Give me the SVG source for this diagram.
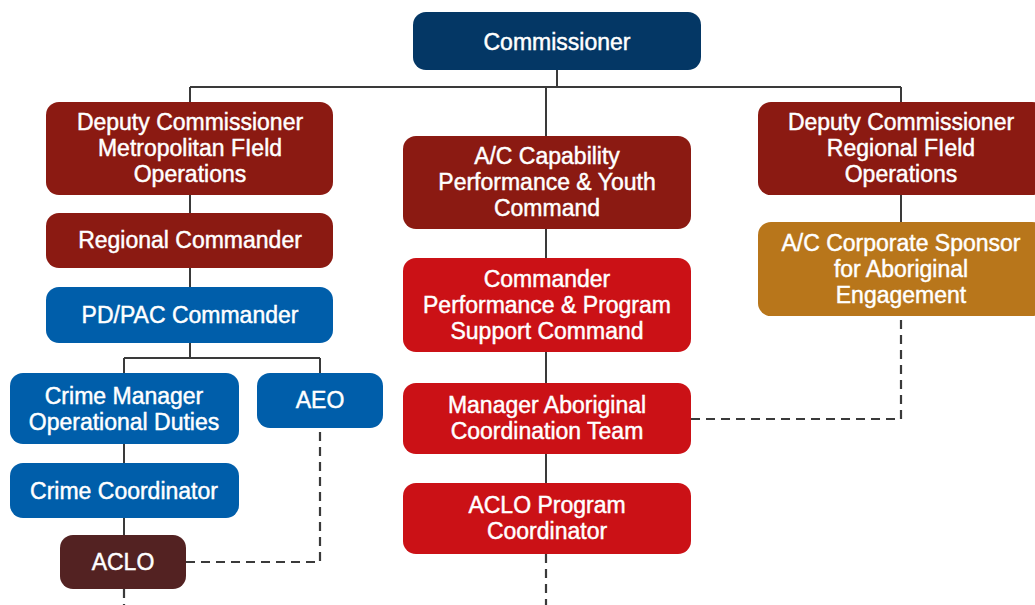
<svg xmlns="http://www.w3.org/2000/svg" width="1035" height="605" viewBox="0 0 1035 605">
<style>
.t{font-family:"Liberation Sans",Arial,Helvetica,sans-serif;font-size:23px;fill:#ffffff;stroke:#ffffff;stroke-width:0.45;text-anchor:middle}
.c{fill:none;stroke:#3a3a3a;stroke-width:2}
.d{fill:none;stroke:#3a3a3a;stroke-width:2.2;stroke-dasharray:9 6}
.navy{fill:#043765}.maroon{fill:#8b1a12}.red{fill:#cb1116}.blue{fill:#005eaa}.gold{fill:#b8761b}.dark{fill:#532222}
</style>
<rect width="1035" height="605" fill="#ffffff"/>
<g id="connectors">
<path class="c" d="M557 70V87M190 87H901M190 87V102M546 87V136M901 87V102"/>
<path class="c" d="M190 195V213M190 268V287M190 343V358M124 358H320M124 358V373M320 358V373M124 444V463M124 518V535"/>
<path class="c" d="M546 229V258M546 352V383M546 454V483M901 195V222"/>
<path class="d" d="M186 562H320V428M124 589V605M546 554V605M691 419H901V316"/>
</g>
<g id="commissioner"><rect class="navy" x="413" y="12" width="288" height="58" rx="13"/><text class="t" x="557" y="50">Commissioner</text></g>
<g id="dc-metro"><rect class="maroon" x="46" y="102" width="287" height="93" rx="13"/><text class="t" x="190" y="130">Deputy Commissioner</text><text class="t" x="190" y="156">Metropolitan FIeld</text><text class="t" x="190" y="182">Operations</text></g>
<g id="ac-capability"><rect class="maroon" x="403" y="136" width="288" height="93" rx="13"/><text class="t" x="547" y="164">A/C Capability</text><text class="t" x="547" y="190">Performance &amp; Youth</text><text class="t" x="547" y="216">Command</text></g>
<g id="dc-regional"><rect class="maroon" x="758" y="102" width="287" height="93" rx="13"/><text class="t" x="901" y="130">Deputy Commissioner</text><text class="t" x="901" y="156">Regional FIeld</text><text class="t" x="901" y="182">Operations</text></g>
<g id="regional-commander"><rect class="maroon" x="46" y="213" width="287" height="55" rx="13"/><text class="t" x="190" y="248">Regional Commander</text></g>
<g id="pdpac"><rect class="blue" x="46" y="287" width="287" height="56" rx="13"/><text class="t" x="190" y="323">PD/PAC Commander</text></g>
<g id="crime-manager"><rect class="blue" x="10" y="373" width="229" height="71" rx="13"/><text class="t" x="124" y="404">Crime Manager</text><text class="t" x="124" y="430">Operational Duties</text></g>
<g id="aeo"><rect class="blue" x="257" y="373" width="126" height="55" rx="13"/><text class="t" x="320" y="408">AEO</text></g>
<g id="crime-coordinator"><rect class="blue" x="10" y="463" width="229" height="55" rx="13"/><text class="t" x="124" y="499">Crime Coordinator</text></g>
<g id="aclo"><rect class="dark" x="60" y="535" width="126" height="54" rx="13"/><text class="t" x="123" y="570">ACLO</text></g>
<g id="commander-perf"><rect class="red" x="403" y="258" width="288" height="94" rx="13"/><text class="t" x="547" y="287">Commander</text><text class="t" x="547" y="313">Performance &amp; Program</text><text class="t" x="547" y="339">Support Command</text></g>
<g id="manager-aboriginal"><rect class="red" x="403" y="383" width="288" height="71" rx="13"/><text class="t" x="547" y="413">Manager Aboriginal</text><text class="t" x="547" y="439">Coordination Team</text></g>
<g id="aclo-program"><rect class="red" x="403" y="483" width="288" height="71" rx="13"/><text class="t" x="547" y="513">ACLO Program</text><text class="t" x="547" y="539">Coordinator</text></g>
<g id="ac-corporate"><rect class="gold" x="758" y="222" width="287" height="94" rx="13"/><text class="t" x="901" y="251">A/C Corporate Sponsor</text><text class="t" x="901" y="277">for Aboriginal</text><text class="t" x="901" y="303">Engagement</text></g>
</svg>
